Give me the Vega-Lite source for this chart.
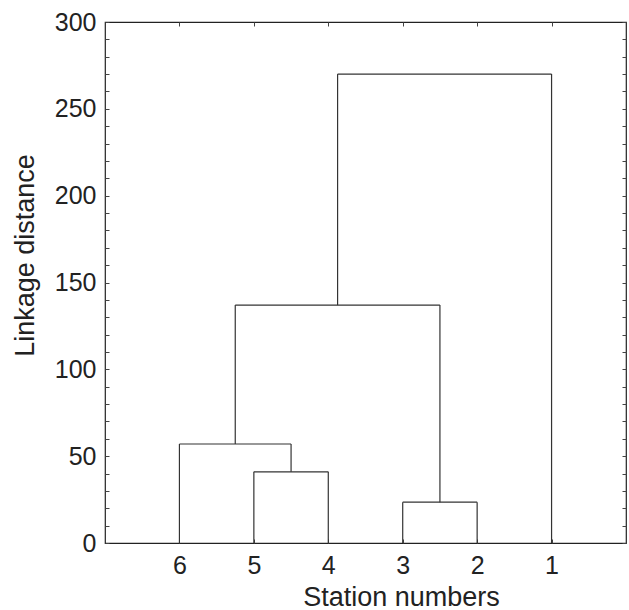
{
  "$schema": "https://vega.github.io/schema/vega-lite/v6.json",
  "autosize": "none",
  "width": 521,
  "height": 521,
  "padding": {"left": 105, "top": 22, "right": 3, "bottom": 67},
  "background": "white",
  "config": {
    "font": "Liberation Sans",
    "view": {"stroke": "#222", "strokeWidth": 1.2},
    "axis": {"grid": false, "domain": false, "labelColor": "#222", "titleColor": "#222", "tickColor": "#444", "labelFont": "Liberation Sans", "titleFont": "Liberation Sans", "titleFontWeight": "normal"}
  },
  "data": {
    "values": [
      {"x": 2, "x2": 2, "y": 0, "y2": 41},
      {"x": 3, "x2": 3, "y": 0, "y2": 41},
      {"x": 2, "x2": 3, "y": 41, "y2": 41},
      {"x": 1, "x2": 1, "y": 0, "y2": 57},
      {"x": 2.5, "x2": 2.5, "y": 41, "y2": 57},
      {"x": 1, "x2": 2.5, "y": 57, "y2": 57},
      {"x": 4, "x2": 4, "y": 0, "y2": 23.5},
      {"x": 5, "x2": 5, "y": 0, "y2": 23.5},
      {"x": 4, "x2": 5, "y": 23.5, "y2": 23.5},
      {"x": 1.75, "x2": 1.75, "y": 57, "y2": 137},
      {"x": 4.5, "x2": 4.5, "y": 23.5, "y2": 137},
      {"x": 1.75, "x2": 4.5, "y": 137, "y2": 137},
      {"x": 3.125, "x2": 3.125, "y": 137, "y2": 270},
      {"x": 6, "x2": 6, "y": 0, "y2": 270},
      {"x": 3.125, "x2": 6, "y": 270, "y2": 270}
    ]
  },
  "layer": [
    {
      "mark": {"type": "rule", "color": "#333", "strokeWidth": 1.2},
      "encoding": {
        "x": {
          "field": "x", "type": "quantitative",
          "scale": {"domain": [0, 7], "nice": false, "zero": false},
          "axis": {
            "orient": "bottom", "values": [1, 2, 3, 4, 5, 6],
            "labelExpr": "'' + (7 - datum.value)",
            "tickSize": -4, "labelPadding": 14, "labelFontSize": 25,
            "title": "Station numbers", "titleFontSize": 27,
            "titleX": 296, "titleY": 62, "titleAlign": "center", "titleBaseline": "alphabetic"
          }
        },
        "x2": {"field": "x2"},
        "y": {
          "field": "y", "type": "quantitative",
          "scale": {"domain": [0, 300], "nice": false},
          "axis": {
            "orient": "left",
            "values": [0, 10, 20, 30, 40, 50, 60, 70, 80, 90, 100, 110, 120, 130, 140, 150, 160, 170, 180, 190, 200, 210, 220, 230, 240, 250, 260, 270, 280, 290, 300],
            "labelExpr": "datum.value % 50 === 0 ? datum.label : ''",
            "tickSize": -4, "labelPadding": 13, "labelFontSize": 25,
            "title": "Linkage distance", "titleFontSize": 27,
            "titleX": -72, "titleY": 233, "titleAngle": -90, "titleAlign": "center", "titleBaseline": "alphabetic"
          }
        },
        "y2": {"field": "y2"}
      }
    },
    {
      "mark": {"type": "rule", "opacity": 0},
      "encoding": {
        "x": {
          "field": "x", "type": "quantitative",
          "axis": {"orient": "top", "values": [1, 2, 3, 4, 5, 6], "labels": false, "tickSize": -4, "title": null}
        },
        "y": {
          "field": "y", "type": "quantitative",
          "axis": {
            "orient": "right",
            "values": [0, 10, 20, 30, 40, 50, 60, 70, 80, 90, 100, 110, 120, 130, 140, 150, 160, 170, 180, 190, 200, 210, 220, 230, 240, 250, 260, 270, 280, 290, 300],
            "labels": false, "tickSize": -4, "title": null
          }
        }
      }
    }
  ],
  "resolve": {"axis": {"x": "independent", "y": "independent"}}
}
